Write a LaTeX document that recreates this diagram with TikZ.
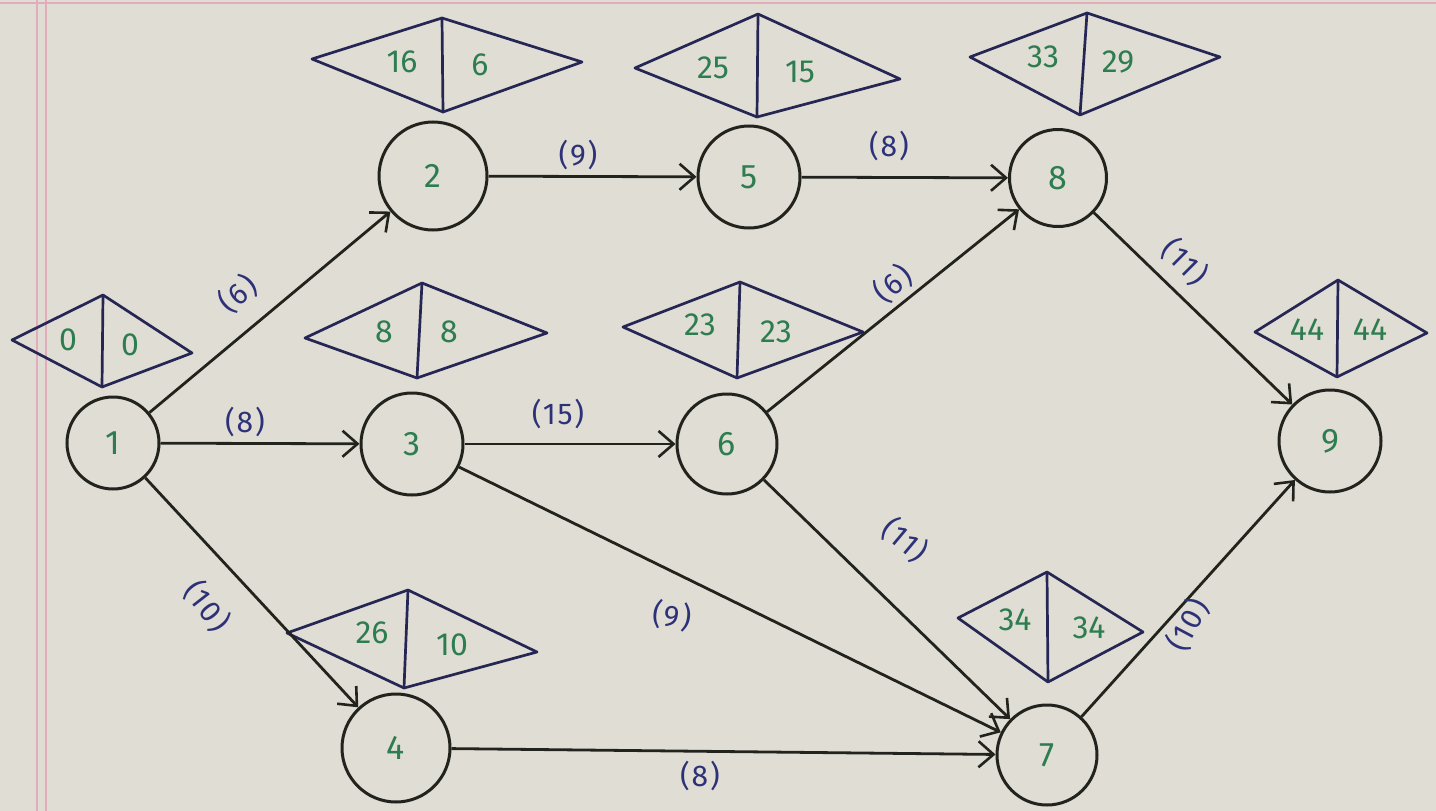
\documentclass[tikz,border=0pt]{standalone}
\usepackage{fontspec}
\setmainfont{Fira Sans}
\newfontfamily\labfont{Fira Sans}[LetterSpace=6]
\usetikzlibrary{arrows.meta}
\definecolor{paper}{RGB}{224,221,212}
\definecolor{circcol}{RGB}{35,35,30}
\definecolor{diamcol}{RGB}{38,38,85}
\definecolor{numgreen}{RGB}{45,125,80}
\definecolor{lblue}{RGB}{45,50,120}
\definecolor{marginpink}{RGB}{226,172,186}
\begin{document}
\begin{tikzpicture}[x=1pt,y=-1pt,
  circ/.style={circle, draw=circcol, line width=3pt, minimum size=#1, inner sep=0pt,
    text=numgreen, font=\fontsize{34}{38}\selectfont},
  circ/.default=100pt,
  diam/.style={draw=diamcol, line width=2.7pt, line join=round},
  dnum/.style={text=numgreen, inner sep=0pt, font=\fontsize{32}{36}\selectfont},
  elab/.style={text=lblue, inner sep=0pt, font=\labfont\fontsize{30}{34}\selectfont},
  edge/.style={draw=circcol, line width=2.8pt, -{Straight Barb[length=15pt,width=26pt,line width=2.6pt]}},
  margin/.style={draw=marginpink, line width=2.5pt}
]
% paper
\fill[paper] (0,0) rectangle (1436,811);
\path[use as bounding box] (0,0) rectangle (1436,811);
\draw[margin] (37,0) -- (37,811);
\draw[margin] (46,0) -- (46,811);
\draw[margin, line width=2pt] (0,3) -- (1436,3);

% event circles
\node[circ=92pt]  (n1) at (113,443) {1};
\node[circ=108pt] (n2) at (433,176) {2};
\node[circ=102pt] (n3) at (412,444) {3};
\node[circ=108pt] (n4) at (396,748) {4};
\node[circ=102pt] (n5) at (749,177) {5};
\node[circ=100pt] (n6) at (727,444) {6};
\node[circ=100pt] (n7) at (1047,755) {7};
\node[circ=97pt]  (n8) at (1058,178) {8};
\node[circ=102pt] (n9) at (1330,441) {9};

% diamonds: left, top, right, bottom
\coordinate (d1l) at (12,340);  \coordinate (d1t) at (103,295); \coordinate (d1r) at (192,353); \coordinate (d1b) at (102,387);
\coordinate (d2l) at (312,59);  \coordinate (d2t) at (442,18);  \coordinate (d2r) at (582,62);  \coordinate (d2b) at (443,112);
\coordinate (d3l) at (305,338); \coordinate (d3t) at (422,283); \coordinate (d3r) at (547,333); \coordinate (d3b) at (417,378);
\coordinate (d4l) at (287,633); \coordinate (d4t) at (408,590); \coordinate (d4r) at (537,652); \coordinate (d4b) at (404,688);
\coordinate (d5l) at (635,68);  \coordinate (d5t) at (758,14);  \coordinate (d5r) at (900,79);  \coordinate (d5b) at (757,117);
\coordinate (d6l) at (623,327); \coordinate (d6t) at (740,282); \coordinate (d6r) at (863,332); \coordinate (d6b) at (737,378);
\coordinate (d7l) at (958,618); \coordinate (d7t) at (1047,572); \coordinate (d7r) at (1143,632); \coordinate (d7b) at (1048,682);
\coordinate (d8l) at (970,57);  \coordinate (d8t) at (1087,13); \coordinate (d8r) at (1220,57); \coordinate (d8b) at (1080,115);
\coordinate (d9l) at (1255,332); \coordinate (d9t) at (1338,280); \coordinate (d9r) at (1427,333); \coordinate (d9b) at (1337,377);
\foreach \i in {1,...,9}{
  \draw[diam] (d\i l) -- (d\i t) -- (d\i r) -- (d\i b) -- cycle;
  \draw[diam] (d\i t) -- (d\i b);
}

% diamond numbers
\node[dnum] (e1) at (68,340) {0};    \node[dnum] (f1) at (130,345) {0};
\node[dnum] (e2) at (402,62) {16};   \node[dnum] (f2) at (480,65) {6};
\node[dnum] (e3) at (384,332) {8};   \node[dnum] (f3) at (449,332) {8};
\node[dnum] (e4) at (372,633) {26};  \node[dnum] (f4) at (452,645) {10};
\node[dnum] (e5) at (713,68) {25};   \node[dnum] (f5) at (800,72) {15};
\node[dnum] (e6) at (700,325) {23};  \node[dnum] (f6) at (776,332) {23};
\node[dnum] (e7) at (1015,620) {34}; \node[dnum] (f7) at (1089,628) {34};
\node[dnum] (e8) at (1043,57) {33};  \node[dnum] (f8) at (1118,62) {29};
\node[dnum] (e9) at (1307,330) {44}; \node[dnum] (f9) at (1370,330) {44};

% activities
\draw[edge] (n1) -- (n2);
\draw[edge] (n1) -- (n3);
\draw[edge] (n1) -- (n4);
\draw[edge] (n2) -- (n5);
\draw[edge] (n3) -- (n6);
\draw[edge] (n3) -- (n7);
\draw[edge] (n4) -- (n7);
\draw[edge] (n5) -- (n8);
\draw[edge] (n6) -- (n8);
\draw[edge] (n6) -- (n7);
\draw[edge] (n8) -- (n9);
\draw[edge] (n7) -- (n9);

% activity durations
\node[elab, rotate=40]  (l12) at (238,294) {(6)};
\node[elab]             (l13) at (245,422) {(8)};
\node[elab, rotate=-52] (l14) at (207,606) {(10)};
\node[elab]             (l25) at (578,155) {(9)};
\node[elab]             (l36) at (558,414) {(15)};
\node[elab, rotate=-8]  (l37) at (672,616) {(9)};
\node[elab]             (l47) at (700,776) {(8)};
\node[elab]             (l58) at (889,146) {(8)};
\node[elab, rotate=40]  (l68) at (893,284) {(6)};
\node[elab, rotate=-40] (l67) at (905,540) {(11)};
\node[elab, rotate=-45] (l89) at (1185,262) {(11)};
\node[elab, rotate=62]  (l79) at (1188,625) {(10)};
\end{tikzpicture}
\end{document}
